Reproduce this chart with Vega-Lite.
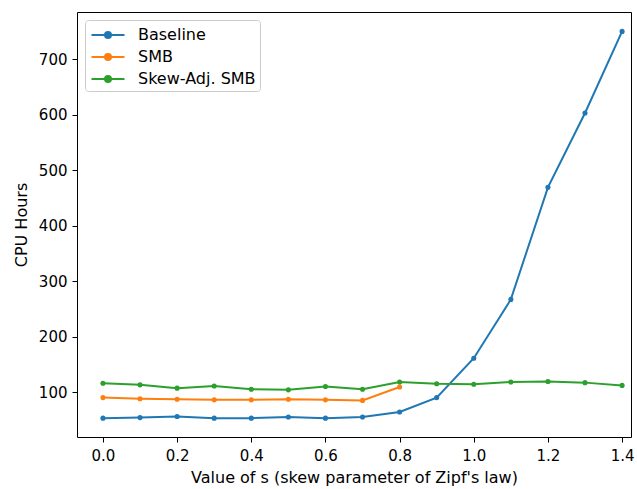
{
  "$schema": "https://vega.github.io/schema/vega-lite/v6.json",
  "width": 554,
  "height": 425,
  "autosize": {"type": "none"},
  "padding": {"left": 77, "top": 12, "right": 6, "bottom": 52},
  "background": "white",
  "config": {
    "font": "DejaVu Sans",
    "view": {"stroke": "black", "strokeWidth": 1},
    "axis": {
      "grid": false,
      "domain": false,
      "tickColor": "black",
      "tickSize": 5,
      "labelFontSize": 15,
      "labelColor": "black",
      "titleFontSize": 16,
      "titleFontWeight": "normal",
      "titleColor": "black",
      "labelPadding": 5
    }
  },
  "data": {
    "values": [
      {"s": 0.0, "series": "Baseline", "hours": 53},
      {"s": 0.1, "series": "Baseline", "hours": 54},
      {"s": 0.2, "series": "Baseline", "hours": 56},
      {"s": 0.3, "series": "Baseline", "hours": 53},
      {"s": 0.4, "series": "Baseline", "hours": 53},
      {"s": 0.5, "series": "Baseline", "hours": 55},
      {"s": 0.6, "series": "Baseline", "hours": 53},
      {"s": 0.7, "series": "Baseline", "hours": 55},
      {"s": 0.8, "series": "Baseline", "hours": 64},
      {"s": 0.9, "series": "Baseline", "hours": 90},
      {"s": 1.0, "series": "Baseline", "hours": 161},
      {"s": 1.1, "series": "Baseline", "hours": 267},
      {"s": 1.2, "series": "Baseline", "hours": 469},
      {"s": 1.3, "series": "Baseline", "hours": 603},
      {"s": 1.4, "series": "Baseline", "hours": 750},
      {"s": 0.0, "series": "SMB", "hours": 90},
      {"s": 0.1, "series": "SMB", "hours": 88},
      {"s": 0.2, "series": "SMB", "hours": 87},
      {"s": 0.3, "series": "SMB", "hours": 86},
      {"s": 0.4, "series": "SMB", "hours": 86},
      {"s": 0.5, "series": "SMB", "hours": 87},
      {"s": 0.6, "series": "SMB", "hours": 86},
      {"s": 0.7, "series": "SMB", "hours": 85},
      {"s": 0.8, "series": "SMB", "hours": 109},
      {"s": 0.0, "series": "Skew-Adj. SMB", "hours": 116},
      {"s": 0.1, "series": "Skew-Adj. SMB", "hours": 113},
      {"s": 0.2, "series": "Skew-Adj. SMB", "hours": 107},
      {"s": 0.3, "series": "Skew-Adj. SMB", "hours": 111},
      {"s": 0.4, "series": "Skew-Adj. SMB", "hours": 105},
      {"s": 0.5, "series": "Skew-Adj. SMB", "hours": 104},
      {"s": 0.6, "series": "Skew-Adj. SMB", "hours": 110},
      {"s": 0.7, "series": "Skew-Adj. SMB", "hours": 105},
      {"s": 0.8, "series": "Skew-Adj. SMB", "hours": 118},
      {"s": 0.9, "series": "Skew-Adj. SMB", "hours": 115},
      {"s": 1.0, "series": "Skew-Adj. SMB", "hours": 114},
      {"s": 1.1, "series": "Skew-Adj. SMB", "hours": 118},
      {"s": 1.2, "series": "Skew-Adj. SMB", "hours": 119},
      {"s": 1.3, "series": "Skew-Adj. SMB", "hours": 117},
      {"s": 1.4, "series": "Skew-Adj. SMB", "hours": 112}
    ]
  },
  "mark": {"type": "line", "strokeWidth": 2, "point": {"size": 26, "filled": true, "opacity": 1}},
  "encoding": {
    "x": {
      "field": "s",
      "type": "quantitative",
      "title": "Value of s (skew parameter of Zipf's law)",
      "scale": {"domain": [-0.07, 1.424], "nice": false, "zero": false},
      "axis": {"values": [0, 0.2, 0.4, 0.6, 0.8, 1.0, 1.2, 1.4], "format": ".1f", "titlePadding": 6, "labelPadding": 6}
    },
    "y": {
      "field": "hours",
      "type": "quantitative",
      "title": "CPU Hours",
      "scale": {"domain": [19, 785], "nice": false, "zero": false},
      "axis": {"values": [100, 200, 300, 400, 500, 600, 700], "titlePadding": 9}
    },
    "color": {
      "field": "series",
      "type": "nominal",
      "scale": {"domain": ["Baseline", "SMB", "Skew-Adj. SMB"], "range": ["#1f77b4", "#ff7f0e", "#2ca02c"]},
      "legend": {
        "title": null,
        "orient": "none",
        "legendX": 8,
        "legendY": 8,
        "direction": "vertical",
        "fillColor": "white",
        "strokeColor": "#cccccc",
        "cornerRadius": 3,
        "padding": 4,
        "labelFontSize": 16,
        "labelColor": "black",
        "symbolType": "M-1.65,0L1.65,0M-0.3,0A0.3,0.3 0 1,1 0.3,0A0.3,0.3 0 1,1 -0.3,0",
        "symbolSize": 400,
        "symbolOffset": 8,
        "symbolStrokeWidth": 2,
        "symbolOpacity": 1,
        "rowPadding": 3,
        "labelOffset": 19
      }
    }
  }
}
